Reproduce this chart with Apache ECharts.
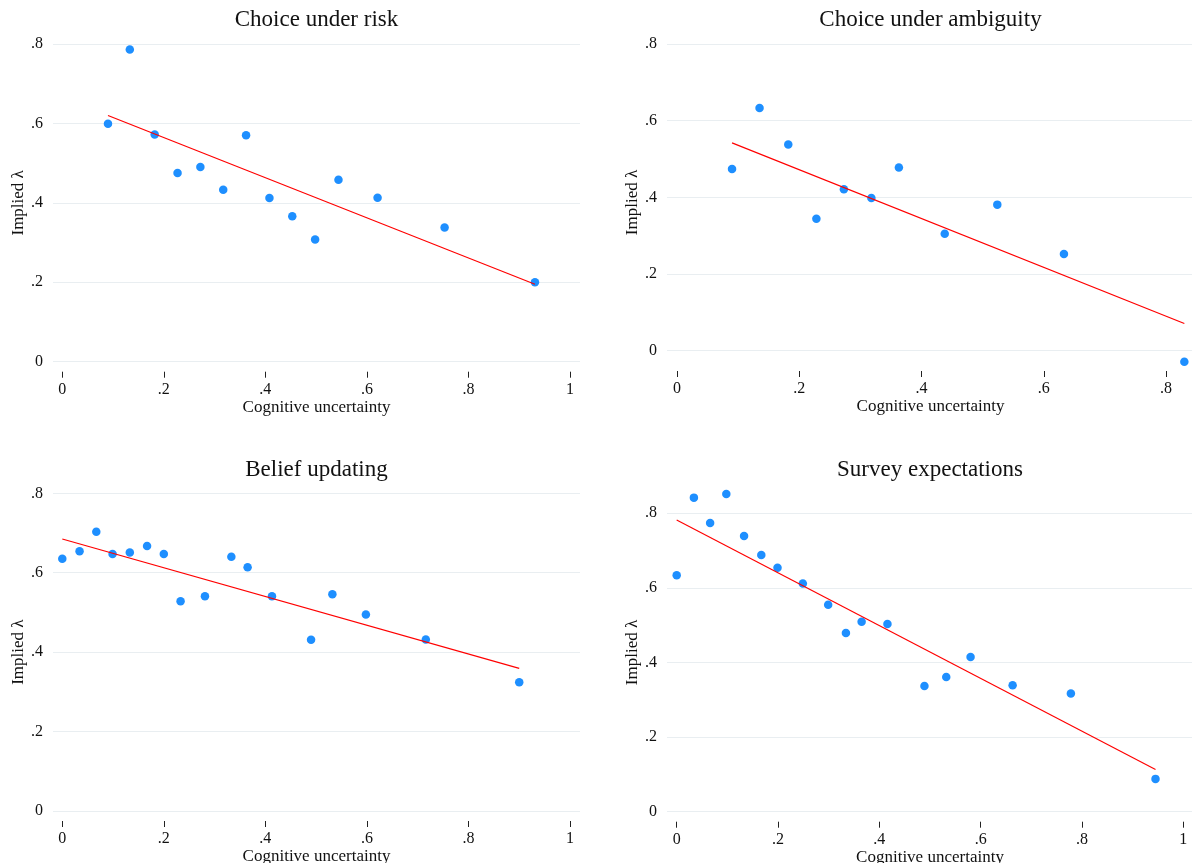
<!DOCTYPE html>
<html>
<head>
<meta charset="utf-8">
<script src="https://cdn.jsdelivr.net/npm/echarts@6/dist/echarts.min.js"></script>
<style>
  html, body { margin: 0; padding: 0; background: #ffffff; }
  #chart { width: 1192px; height: 863px; }
</style>
</head>
<body>
<div id="chart"></div>
<script>
// ---- tick labels ----
const xTickValues = [0, 0.2, 0.4, 0.6, 0.8, 1];
const xTickLabels = ['0', '.2', '.4', '.6', '.8', '1'];
const yTickValues = [0, 0.2, 0.4, 0.6, 0.8];
const yTickLabels = ['0', '.2', '.4', '.6', '.8'];

// ---- titles ----
const panelTitles = ['Choice under risk', 'Choice under ambiguity', 'Belief updating', 'Survey expectations'];
const xAxisTitle = 'Cognitive uncertainty';
const yAxisTitle = 'Implied \u03bb';

// ---- Choice under risk ----
const riskX = [0.090, 0.133, 0.182, 0.227, 0.272, 0.317, 0.362, 0.408, 0.453, 0.498, 0.544, 0.621, 0.753, 0.931];
const riskY = [0.599, 0.786, 0.572, 0.475, 0.490, 0.433, 0.570, 0.412, 0.366, 0.308, 0.458, 0.413, 0.338, 0.200];
const riskFitX = [0.090, 0.931];
const riskFitY = [0.620, 0.195];

// ---- Choice under ambiguity ----
const ambX = [0.090, 0.135, 0.182, 0.228, 0.273, 0.318, 0.363, 0.438, 0.524, 0.633, 0.830];
const ambY = [0.474, 0.633, 0.538, 0.344, 0.421, 0.398, 0.478, 0.305, 0.381, 0.252, -0.029];
const ambFitX = [0.090, 0.830];
const ambFitY = [0.542, 0.071];

// ---- Belief updating ----
const beliefX = [0.000, 0.034, 0.067, 0.099, 0.133, 0.167, 0.200, 0.233, 0.281, 0.333, 0.365, 0.413, 0.490, 0.532, 0.598, 0.716, 0.900];
const beliefY = [0.635, 0.654, 0.703, 0.647, 0.651, 0.667, 0.647, 0.528, 0.541, 0.640, 0.614, 0.541, 0.431, 0.546, 0.495, 0.432, 0.324];
const beliefFitX = [0.000, 0.900];
const beliefFitY = [0.685, 0.359];

// ---- Survey expectations ----
const surveyX = [0.000, 0.034, 0.066, 0.098, 0.133, 0.167, 0.199, 0.249, 0.299, 0.334, 0.365, 0.416, 0.489, 0.532, 0.580, 0.663, 0.778, 0.945];
const surveyY = [0.634, 0.842, 0.774, 0.852, 0.739, 0.688, 0.654, 0.612, 0.555, 0.479, 0.509, 0.503, 0.337, 0.361, 0.415, 0.339, 0.317, 0.088];
const surveyFitX = [0.000, 0.945];
const surveyFitY = [0.782, 0.113];

// ---- layout (pixels / axis extents) ----
const FONT = 'Liberation Serif';
const panels = [
  { title: panelTitles[0], xs: riskX, ys: riskY, fx: riskFitX, fy: riskFitY,
    left: 53, top: 44, width: 527, height: 317.7, xMin: -0.0183, xMax: 1.0197, yMin: 0, yMax: 0.8, titleTop: 8 },
  { title: panelTitles[1], xs: ambX, ys: ambY, fx: ambFitX, fy: ambFitY,
    left: 667, top: 44, width: 527, height: 317, xMin: -0.0164, xMax: 0.8458, yMin: -0.0269, yMax: 0.8, titleTop: 8 },
  { title: panelTitles[2], xs: beliefX, ys: beliefY, fx: beliefFitX, fy: beliefFitY,
    left: 53, top: 493.3, width: 527, height: 317.7, xMin: -0.0183, xMax: 1.0197, yMin: 0, yMax: 0.8, titleTop: 458.5 },
  { title: panelTitles[3], xs: surveyX, ys: surveyY, fx: surveyFitX, fy: surveyFitY,
    left: 667, top: 493.3, width: 526, height: 318.4, xMin: -0.0191, xMax: 1.019, yMin: 0, yMax: 0.8536, titleTop: 458.5 }
];

function pickLabel(values, labels) {
  return function (v) {
    const i = values.findIndex(t => Math.abs(t - v) < 1e-9);
    return i >= 0 ? labels[i] : '';
  };
}

const option = {
  animation: false,
  backgroundColor: '#ffffff',
  textStyle: { fontFamily: FONT },
  title: [], grid: [], xAxis: [], yAxis: [], series: []
};

panels.forEach((p, i) => {
  const xVals = xTickValues.filter(v => v >= p.xMin && v <= p.xMax);
  const yVals = yTickValues.filter(v => v >= p.yMin && v <= p.yMax);
  option.title.push({
    text: p.title,
    left: p.left + p.width / 2,
    top: p.titleTop,
    textAlign: 'center',
    padding: 0,
    textStyle: { fontFamily: FONT, fontSize: 23, fontWeight: 'normal', color: '#111' }
  });
  option.grid.push({
    left: p.left, top: p.top, width: p.width, height: p.height,
    containLabel: false, outerBoundsMode: 'none', show: false
  });
  option.xAxis.push({
    type: 'value', gridIndex: i, min: p.xMin, max: p.xMax, offset: 10, position: 'bottom',
    name: xAxisTitle, nameLocation: 'middle', nameGap: 20,
    nameTextStyle: { fontFamily: FONT, fontSize: 17, color: '#111' },
    axisLine: { show: false, onZero: false },
    axisTick: { show: true, length: 6, customValues: xVals, lineStyle: { color: '#222', width: 1 } },
    axisLabel: { show: true, customValues: xVals, margin: 10, fontFamily: FONT, fontSize: 16, color: '#111',
                 formatter: pickLabel(xTickValues, xTickLabels) },
    splitLine: { show: false }
  });
  option.yAxis.push({
    type: 'value', gridIndex: i, min: p.yMin, max: p.yMax, position: 'left',
    name: yAxisTitle, nameLocation: 'middle', nameGap: 26,
    nameTextStyle: { fontFamily: FONT, fontSize: 17, color: '#111' },
    axisLine: { show: false, onZero: false },
    axisTick: { show: false, customValues: yVals },
    axisLabel: { show: true, customValues: yVals, margin: 10, fontFamily: FONT, fontSize: 16, color: '#111',
                 padding: [3, 0, 0, 0],
                 formatter: pickLabel(yTickValues, yTickLabels) },
    splitLine: { show: true, lineStyle: { color: '#e9eef1', width: 1.2 } }
  });
  option.series.push({
    type: 'scatter', xAxisIndex: i, yAxisIndex: i, clip: false,
    symbol: 'circle', symbolSize: 8.5,
    itemStyle: { color: '#1e8fff', opacity: 1 },
    emphasis: { disabled: true },
    data: p.xs.map((x, k) => [x, p.ys[k]])
  });
  option.series.push({
    type: 'line', xAxisIndex: i, yAxisIndex: i, clip: false,
    showSymbol: false, symbol: 'none',
    lineStyle: { color: '#ff0000', width: 1.2 },
    data: p.fx.map((x, k) => [x, p.fy[k]])
  });
});

const chart = echarts.init(document.getElementById('chart'), null, { renderer: 'canvas' });
chart.setOption(option);
</script>
</body>
</html>
